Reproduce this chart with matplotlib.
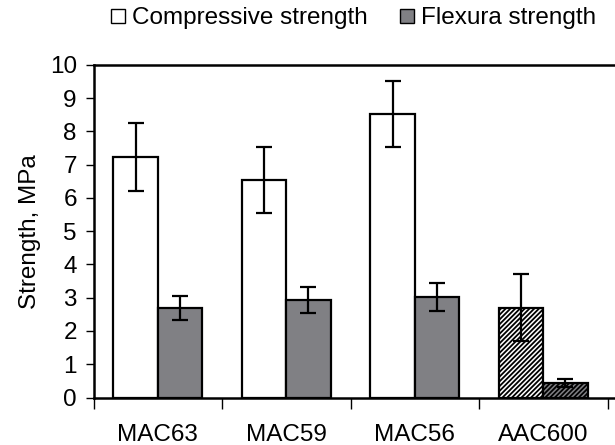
import matplotlib
matplotlib.use("Agg")
import matplotlib.pyplot as plt
from matplotlib.lines import Line2D
import numpy as np

plt.rcParams['font.family'] = ['Liberation Sans', 'DejaVu Sans']
plt.rcParams['hatch.linewidth'] = 1.3

# values
mixes = ["MAC63", "MAC59", "MAC56", "AAC600"]
compressive = [7.22, 6.54, 8.52, 2.70]
compressive_err = [1.02, 0.98, 1.00, 1.00]
flexural = [2.69, 2.93, 3.02, 0.44]
flexural_err = [0.36, 0.40, 0.43, 0.12]
yticks = list(range(0, 11))

GRAY = '#808084'

fig = plt.figure(figsize=(6.15, 4.45), dpi=100)
ax = fig.add_axes([93.5 / 615, 47.5 / 445, 1 - 93.5 / 615, 332.7 / 445])

x = np.arange(len(mixes))
width = 0.346
err_kw = dict(ecolor='black', elinewidth=1.6, capsize=5.5, capthick=1.6)

bars_c = ax.bar(x - width / 2, compressive, width, yerr=compressive_err,
                color='white', edgecolor='black', linewidth=1.6,
                error_kw=err_kw, zorder=2)
bars_f = ax.bar(x + width / 2, flexural, width, yerr=flexural_err,
                color=GRAY, edgecolor='black', linewidth=1.6,
                error_kw=err_kw, zorder=2)

# the AAC600 bars are hatched
bars_c[-1].set_hatch('///////')
bars_f[-1].set_hatch('///////')

ax.set_xlim(-0.5, -0.5 + 521.5 / 128.5)
ax.set_ylim(0, 10)
ax.set_yticks(yticks)
ax.set_ylabel('Strength, MPa', fontsize=17.5, labelpad=6)

# category boundary ticks, labels centred underneath
ax.set_xticks(np.arange(len(mixes) + 1) - 0.5)
ax.set_xticklabels([])
ax.set_xticks(x, minor=True)
ax.set_xticklabels(mixes, minor=True, fontsize=17.5)
ax.tick_params(axis='x', which='major', length=8, width=1, direction='out')
ax.tick_params(axis='x', which='minor', length=0, pad=19)
ax.tick_params(axis='y', length=6, width=1, direction='out', labelsize=17.5, pad=6)

for side in ['left', 'bottom', 'top']:
    ax.spines[side].set_linewidth(1.8)
ax.spines['right'].set_visible(False)

handles = [
    Line2D([], [], linestyle='none', marker='s', markersize=10,
           markerfacecolor='white', markeredgecolor='black', markeredgewidth=1),
    Line2D([], [], linestyle='none', marker='s', markersize=10,
           markerfacecolor=GRAY, markeredgecolor='black', markeredgewidth=1),
]
fig.legend(handles, ['Compressive strength', 'Flexura strength'],
           loc='center', bbox_to_anchor=(354 / 615, 1 - 18 / 445), ncol=2,
           frameon=False, fontsize=17.5, handlelength=0.5, handletextpad=0.3,
           columnspacing=1.4, borderpad=0)

fig.savefig('out.png', dpi=100)
